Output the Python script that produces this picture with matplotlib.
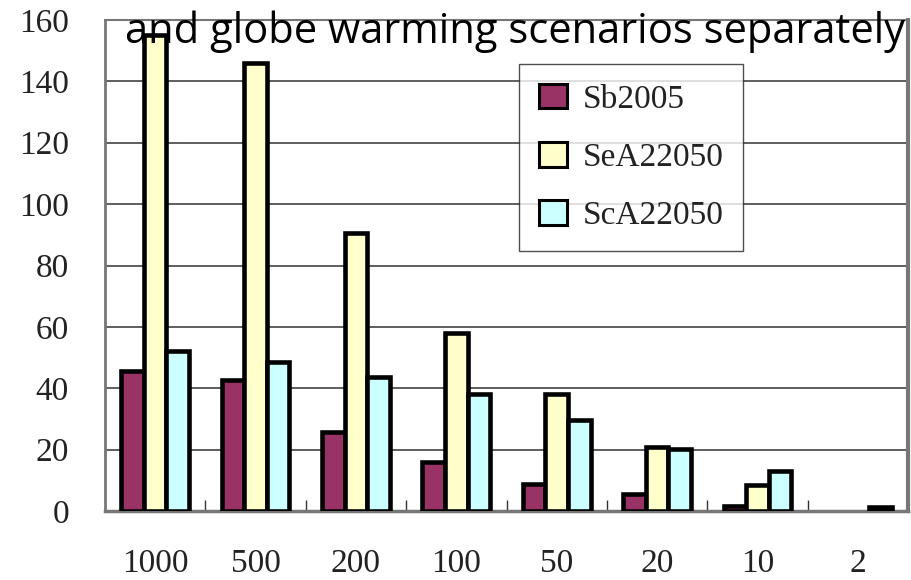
import numpy as np
import matplotlib
matplotlib.use("Agg")
import matplotlib.pyplot as plt
from matplotlib.patches import Patch
from matplotlib.ticker import FixedLocator

# return periods (years) and counts per scenario
periods = ["1000", "500", "200", "100", "50", "20", "10", "2"]
sb2005 = [45.6, 42.7, 25.7, 16.1, 8.7, 5.5, 1.7, 0]
sea22050 = [155.2, 146, 90.5, 58.1, 38.0, 21.0, 8.5, 0]
sca22050 = [52.2, 48.5, 43.6, 38.0, 29.7, 20.1, 13.1, 1.4]
series_names = ["Sb2005", "SeA22050", "ScA22050"]
series_colors = ["#993366", "#FFFFCC", "#CCFFFF"]
title_text = "and globe warming scenarios separately"

serif = ["Liberation Serif", "DejaVu Serif"]
fs = 24

fig = plt.figure(figsize=(9.12, 5.8), dpi=100)
ax = fig.add_axes([105 / 912, 69 / 580, 803 / 912, 491 / 580])

x = np.arange(len(periods))
w = 0.225
for i, (vals, col) in enumerate(zip([sb2005, sea22050, sca22050], series_colors)):
    # zero-height bars get no outline
    lws = [3.3 if v > 0 else 0 for v in vals]
    ax.bar(x + (i - 1) * w, vals, width=w, color=col, edgecolor="black",
           linewidth=lws, zorder=3)

ax.set_xlim(-0.5, len(periods) - 0.5)
ax.set_ylim(0, 160)
ax.set_yticks(np.arange(0, 161, 20))
ax.yaxis.grid(True, color="#333333", linewidth=1.1, zorder=0)
ax.set_axisbelow(True)

ax.set_xticks(x)
ax.set_xticklabels(periods, family=serif, fontsize=fs, color="#222222")
ax.xaxis.set_minor_locator(FixedLocator(np.arange(0.5, len(periods), 1)))
ax.tick_params(axis="x", which="major", length=0, pad=27)
ax.tick_params(axis="x", which="minor", direction="in", length=8, width=1, color="#333333")
ax.tick_params(axis="y", length=0, pad=26)
for lab in ax.get_yticklabels():
    lab.set_family(serif)
    lab.set_fontsize(fs)
    lab.set_color("#222222")

for side, lw in [("left", 2), ("bottom", 2.5), ("right", 3), ("top", 1.5)]:
    ax.spines[side].set_color("#777777")
    ax.spines[side].set_linewidth(lw)

handles = [Patch(facecolor=c, edgecolor="black", linewidth=2.2) for c in series_colors]
leg = ax.legend(handles, series_names, loc="upper left",
                bbox_to_anchor=(519 / 912, 1 - 64 / 580), bbox_transform=fig.transFigure,
                prop={"family": serif, "size": fs}, labelcolor="#222222",
                frameon=True, fancybox=False,
                handlelength=0.85, handleheight=0.75, labelspacing=0.82,
                borderpad=0.6, handletextpad=0.45, borderaxespad=0)
leg.get_frame().set_edgecolor("#222222")
leg.get_frame().set_linewidth(1)
leg.set_zorder(5)

fig.text(125 / 912, 1 - 43 / 580, title_text, family=["Open Sans", "DejaVu Sans"],
         fontsize=30, va="baseline", ha="left", color="black", zorder=10)

fig.savefig("out.png", dpi=100)
